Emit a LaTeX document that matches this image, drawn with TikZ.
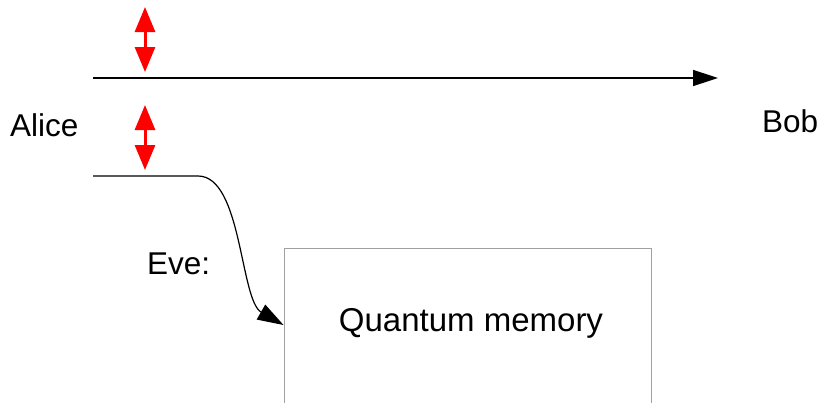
\documentclass[tikz,border=0pt]{standalone}
\usepackage{fontspec}
\setmainfont{Liberation Sans}
\usetikzlibrary{arrows.meta}
\definecolor{boxgray}{RGB}{160,160,160}
\tikzset{
  label text/.style={inner sep=0pt, font=\fontsize{31.5}{37}\selectfont},
  channel/.style={line width=1.5pt, -{Triangle[length=25pt,width=16pt]}},
  divert/.style={line width=1.2pt, -{Triangle[length=26pt,width=17pt]}},
  polar/.style={red, line width=3pt,
    {Triangle[length=25pt,width=20pt]}-{Triangle[length=25pt,width=20pt]}},
  membox/.style={draw=boxgray, line width=1pt, minimum width=367pt,
    minimum height=308pt, inner sep=0pt}
}
\begin{document}
\begin{tikzpicture}[x=1pt, y=-1pt]
  \useasboundingbox (0,0) rectangle (821,402);
  \clip (0,0) rectangle (821,402);

  % parties
  \node[label text, anchor=base west] (alice) at (10,136) {Alice};
  \node[label text, anchor=base west] (bob) at (762,132) {Bob};
  \node[label text, anchor=base west] (eve) at (147,274) {Eve:};

  % Eve's storage, running off the lower edge
  \node[membox] (box) at (467.5,402) {};
  \node[label text, anchor=base, font=\fontsize{33}{38}\selectfont] (mem) at (471,331) {Quantum memory};

  % channel from Alice to Bob
  \coordinate (chstart) at (93,78);
  \coordinate (chend) at (718,78);
  \draw[channel] (chstart) -- (chend);

  % diverted line into the memory
  \coordinate (evstart) at (93,176);
  \coordinate (evbend) at (198,176);
  \coordinate (lvl) at (0,325);
  \coordinate (memin) at (box.west |- lvl);
  \draw[divert] (evstart) -- (evbend)
    .. controls (242,176) and (240,300) .. (memin);

  % polarisation markers
  \draw[polar] (145,7) -- (145,72);
  \draw[polar] (145,105) -- (145,170);
\end{tikzpicture}
\end{document}
